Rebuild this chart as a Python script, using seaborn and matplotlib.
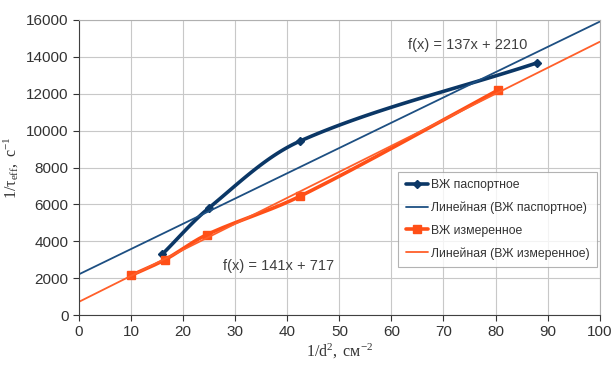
import numpy as np
import seaborn as sns
import matplotlib.pyplot as plt
from matplotlib.lines import Line2D

# data
x_pasp = [16, 25, 42.5, 88]
y_pasp = [3300, 5820, 9440, 13680]
x_izm = [10, 16.5, 24.5, 42.5, 80.5]
y_izm = [2150, 3000, 4350, 6450, 12200]
fit_pasp = (137, 2210)
fit_izm = (141, 717)
x_ticks = list(range(0, 101, 10))
y_ticks = list(range(0, 16001, 2000))

c_pasp = '#0b3766'
c_pasp_fit = '#1d4f82'
c_izm = '#ff4f17'
c_izm_fit = '#ff5f2a'


def smooth(xs, ys, n=40):
    # bezier through the points with chord-length tangents (done in screen-like units)
    sx, sy = 5.21, 295 / 16000
    p = np.column_stack([np.array(xs, float) * sx, np.array(ys, float) * sy])
    d = np.linalg.norm(np.diff(p, axis=0), axis=1)
    tang = np.zeros_like(p)
    tang[0] = (p[1] - p[0]) / d[0]
    tang[-1] = (p[-1] - p[-2]) / d[-1]
    for i in range(1, len(p) - 1):
        tang[i] = (p[i + 1] - p[i - 1]) / (d[i - 1] + d[i])
    t = np.linspace(0, 1, n)[:, None]
    pts = []
    for i in range(len(p) - 1):
        c1 = p[i] + tang[i] * d[i] / 3
        c2 = p[i + 1] - tang[i + 1] * d[i] / 3
        pts.append((1 - t) ** 3 * p[i] + 3 * (1 - t) ** 2 * t * c1
                   + 3 * (1 - t) * t ** 2 * c2 + t ** 3 * p[i + 1])
    pts = np.vstack(pts)
    return pts[:, 0] / sx, pts[:, 1] / sy


sns.set_style('white')
plt.rcParams['font.family'] = ['Liberation Sans', 'DejaVu Sans']
plt.rcParams['mathtext.fontset'] = 'custom'
plt.rcParams['mathtext.rm'] = 'Liberation Serif'
plt.rcParams['mathtext.it'] = 'Liberation Serif:italic'

fig = plt.figure(figsize=(6.14, 3.69), dpi=100)
ax = fig.add_axes([0.1287, 0.1463, 0.848, 0.7995])

xx = np.array([0, 100])
cx, cy = smooth(x_pasp, y_pasp)
sns.lineplot(x=cx, y=cy, ax=ax, color=c_pasp, lw=2.6, sort=False)
ax.plot(x_pasp, y_pasp, ls='none', marker='D', ms=4, color=c_pasp)
sns.lineplot(x=xx, y=fit_pasp[0] * xx + fit_pasp[1], ax=ax, color=c_pasp_fit, lw=1.3)
cx, cy = smooth(x_izm, y_izm)
sns.lineplot(x=cx, y=cy, ax=ax, color=c_izm, lw=2.6, sort=False)
ax.plot(x_izm, y_izm, ls='none', marker='s', ms=6, color=c_izm)
sns.lineplot(x=xx, y=fit_izm[0] * xx + fit_izm[1], ax=ax, color=c_izm_fit, lw=1.3)

ax.set_xlim(0, 100)
ax.set_ylim(0, 16000)
ax.set_xticks(x_ticks)
ax.set_yticks(y_ticks)
ax.grid(True, color='#c8c8c8', lw=0.8)
for s in ax.spines.values():
    s.set_color('#b0b0b0')
    s.set_linewidth(0.8)
ax.spines['bottom'].set_color('#404040')
ax.spines['left'].set_color('#404040')
ax.tick_params(axis='both', labelsize=11, colors='#333333', length=4,
               direction='out', bottom=True, left=True, width=0.8)

serif = ['Liberation Serif', 'DejaVu Serif']
ax.set_xlabel(r'$\mathregular{1/d^{2},\ см^{-2}}$', family=serif, fontsize=11.5, color='#333333', labelpad=2)
ax.set_ylabel(r'$\mathregular{1/τ_{eff},\ с^{-1}}$', family=serif, fontsize=11.5, color='#333333', labelpad=4)

ax.text(74.7, 14650, 'f(x) = 137x + 2210', fontsize=10.5, color='#404040', ha='center', va='center')
ax.text(38.3, 2660, 'f(x) = 141x + 717', fontsize=10.5, color='#404040', ha='center', va='center')

handles = [
    Line2D([], [], color=c_pasp, lw=2.6, marker='D', ms=4),
    Line2D([], [], color=c_pasp_fit, lw=1.3),
    Line2D([], [], color=c_izm, lw=2.6, marker='s', ms=6),
    Line2D([], [], color=c_izm_fit, lw=1.3),
]
labels = ['ВЖ паспортное', 'Линейная (ВЖ паспортное)', 'ВЖ измеренное', 'Линейная (ВЖ измеренное)']
leg = ax.legend(handles, labels, loc='center right', bbox_to_anchor=(1.0, 0.324),
                fontsize=8.8, frameon=True, fancybox=False, edgecolor='#a0a0a0',
                handlelength=1.8, handletextpad=0.3, labelspacing=0.85, borderpad=0.6,
                labelcolor='#333333', borderaxespad=0.2)
leg.get_frame().set_linewidth(0.8)

fig.savefig('out.png', dpi=100)
